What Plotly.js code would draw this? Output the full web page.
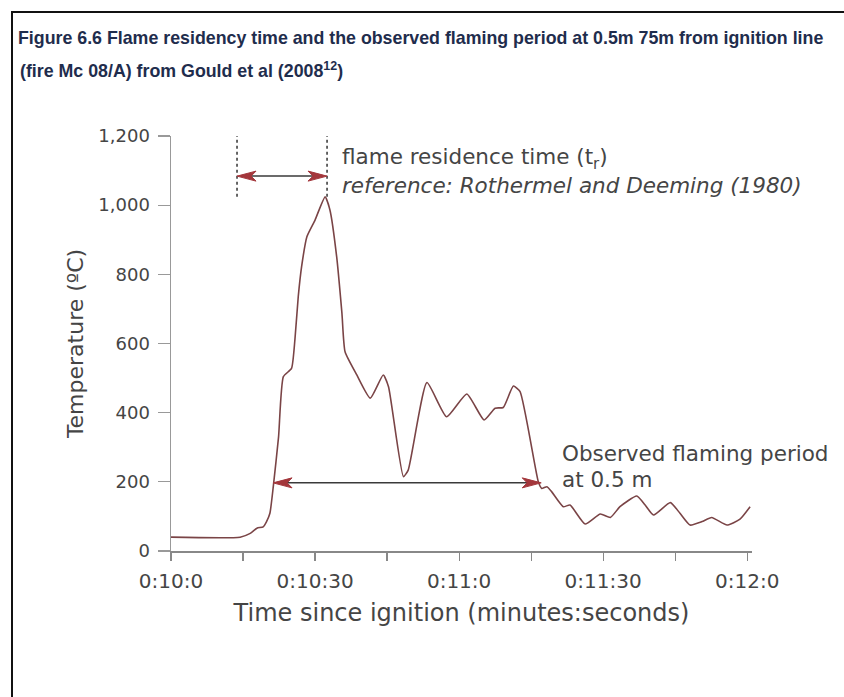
<!DOCTYPE html>
<html>
<head>
<meta charset="utf-8">
<script src="https://cdn.plot.ly/plotly-3.0.1.min.js"></script>
<style>
  html, body { margin: 0; padding: 0; background: #fff; }
  #wrap { position: relative; width: 844px; height: 697px; }
  #frame { position: absolute; left: 11px; top: 11px; right: -4px; bottom: -4px;
           border-left: 2px solid #111; border-top: 2px solid #111; pointer-events: none; z-index: 5; }
  #chart { position: absolute; left: 0; top: 0; width: 844px; height: 697px; }
</style>
</head>
<body>
<div id="wrap">
  <div id="chart"></div>
  <div id="frame"></div>
</div>
<script>
// ---- data ----
const timeSec = [600, 614.4, 616.5, 617.9, 619.2, 619.9, 620.6, 621.3, 622.4, 623.4, 625.1, 625.8, 626.5, 627.2, 628.3, 630, 632.1, 633.1, 634.5, 635.6, 636.25, 638.7, 641.5, 644.2, 645.3, 648.4, 649.4, 653.3, 657.4, 661.6, 665.2, 667.5, 669.2, 671.3, 672.7, 676.5, 677.2, 678.3, 679.3, 681.7, 683.1, 686.25, 689.4, 691.5, 693.5, 697, 698.75, 700.5, 704, 706, 708.1, 710.6, 712.6, 715.8, 718.5, 720.6];
const temperature = [40, 40, 51, 66, 70, 85, 109, 186, 330, 504, 528, 610, 735, 822, 909, 957, 1024, 986, 851, 687, 576, 509, 442, 509, 475, 215, 234, 487, 388, 454, 379, 413, 415, 477, 461, 200, 181, 186, 171, 128, 133, 78, 107, 97, 128, 159, 133, 104, 140, 109, 75, 85, 97, 75, 92, 128];

const xTickVals = [600, 630, 660, 690, 720];
const xTickText = ['0:10:0', '0:10:30', '0:11:0', '0:11:30', '0:12:0'];

// annotation values (seconds, °C)
const residenceStart = 613.75, residenceEnd = 632.5, residenceArrowY = 1084;
const residenceLineBottom = 1024, residenceLineTop = 1200;
const flamingStart = 621.25, flamingEnd = 677.1, flamingArrowY = 197;

// ---- layout geometry ----
const W = 844, H = 697;
const M = { l: 171, r: 92, t: 136, b: 146 };
const xRange = [600, 721], yRange = [0, 1200];
const plotW = W - M.l - M.r, plotH = H - M.t - M.b;
const dxPerPx = (xRange[1] - xRange[0]) / plotW;
const dyPerPx = (yRange[1] - yRange[0]) / plotH;

const headColor = '#a3363b';
const shaftColor = '#3a3a3a';
const textColor = '#454545';
const font = 'DejaVu Sans, Verdana, sans-serif';
const titleFont = 'Liberation Sans, Arial, sans-serif';

function head(xTip, yTip, dir) { // dir: +1 points right, -1 points left
  const L = 19 * dxPerPx, N = 14 * dxPerPx, h = 5 * dyPerPx;
  const xb = xTip - dir * L, xn = xTip - dir * N;
  return {
    type: 'path', xref: 'x', yref: 'y', layer: 'above',
    path: `M${xTip},${yTip} L${xb},${yTip + h} L${xn},${yTip} L${xb},${yTip - h} Z`,
    fillcolor: headColor, line: { color: headColor, width: 1 }
  };
}
function hline(x0, x1, y) {
  return { type: 'line', xref: 'x', yref: 'y', layer: 'above', x0, x1, y0: y, y1: y,
           line: { color: shaftColor, width: 1.5 } };
}
function vdot(x) {
  return { type: 'line', xref: 'x', yref: 'y', layer: 'above', x0: x, x1: x,
           y0: residenceLineBottom, y1: residenceLineTop,
           line: { color: '#333', width: 1.5, dash: 'dot' } };
}

const shapes = [
  vdot(residenceStart), vdot(residenceEnd),
  hline(residenceStart + 10 * dxPerPx, residenceEnd - 10 * dxPerPx, residenceArrowY),
  head(residenceStart, residenceArrowY, -1), head(residenceEnd, residenceArrowY, 1),
  hline(flamingStart + 10 * dxPerPx, flamingEnd - 10 * dxPerPx, flamingArrowY),
  head(flamingStart, flamingArrowY, -1), head(flamingEnd, flamingArrowY, 1)
];

const trace = {
  x: timeSec, y: temperature, type: 'scatter', mode: 'lines',
  line: { color: '#7a4446', width: 1.6, shape: 'spline', smoothing: 0.5 }, hoverinfo: 'skip'
};

const annFont = { family: font, size: 21.5, color: textColor };
const annotations = [
  { xref: 'x', yref: 'y', x: 635.2, y: 1136, xanchor: 'left', yanchor: 'middle', showarrow: false,
    text: 'flame residence time (t<sub>r</sub>)', font: annFont },
  { xref: 'x', yref: 'y', x: 635.2, y: 1058, xanchor: 'left', yanchor: 'middle', showarrow: false,
    text: '<i>reference: Rothermel and Deeming (1980)</i>', font: annFont },
  { xref: 'x', yref: 'y', x: 681, y: 283, xanchor: 'left', yanchor: 'middle', showarrow: false,
    text: 'Observed flaming period', font: annFont },
  { xref: 'x', yref: 'y', x: 681, y: 207, xanchor: 'left', yanchor: 'middle', showarrow: false,
    text: 'at 0.5 m', font: annFont },
  { xref: 'paper', yref: 'paper', x: (18 - M.l) / plotW, y: (H - M.b - 70) / plotH,
    xanchor: 'left', yanchor: 'middle', showarrow: false,
    text: '<b>(fire Mc 08/A) from Gould et al (2008<sup>12</sup>)</b>',
    font: { family: titleFont, size: 17.8, color: '#1f2d4d' } }
];

const layout = {
  width: W, height: H,
  margin: M,
  paper_bgcolor: '#fff', plot_bgcolor: '#fff',
  showlegend: false,
  title: {
    text: '<b>Figure 6.6 Flame residency time and the observed flaming period at 0.5m 75m from ignition line</b>',
    xref: 'container', yref: 'container', x: 18 / W, xanchor: 'left', y: 1 - 38 / H, yanchor: 'middle',
    font: { family: titleFont, size: 17.8, color: '#1f2d4d' }
  },
  xaxis: {
    range: xRange, tickvals: xTickVals, ticktext: xTickText,
    ticks: 'outside', ticklen: 8, tickwidth: 1.2, tickcolor: '#888',
    showline: true, linecolor: '#888', linewidth: 1.5,
    showgrid: false, zeroline: false, ticklabelstandoff: 3,
    minor: { tick0: 600, dtick: 15, ticks: 'outside', ticklen: 8, tickwidth: 1.2, tickcolor: '#888', showgrid: false },
    tickfont: { family: font, size: 20, color: textColor },
    title: { text: 'Time since ignition (minutes:seconds)', standoff: 12,
             font: { family: font, size: 24, color: textColor } }
  },
  yaxis: {
    range: yRange, dtick: 200, tickformat: ',d',
    ticks: 'outside', ticklen: 12, tickwidth: 1.2, tickcolor: '#999',
    showline: true, linecolor: '#999', linewidth: 1.5,
    showgrid: false, zeroline: false, ticklabelstandoff: 4,
    tickfont: { family: font, size: 18, color: textColor },
    title: { text: 'Temperature (ºC)', standoff: 8,
             font: { family: font, size: 22, color: textColor } }
  },
  shapes, annotations
};

Plotly.newPlot('chart', [trace], layout, { staticPlot: true, displayModeBar: false });
</script>
</body>
</html>
